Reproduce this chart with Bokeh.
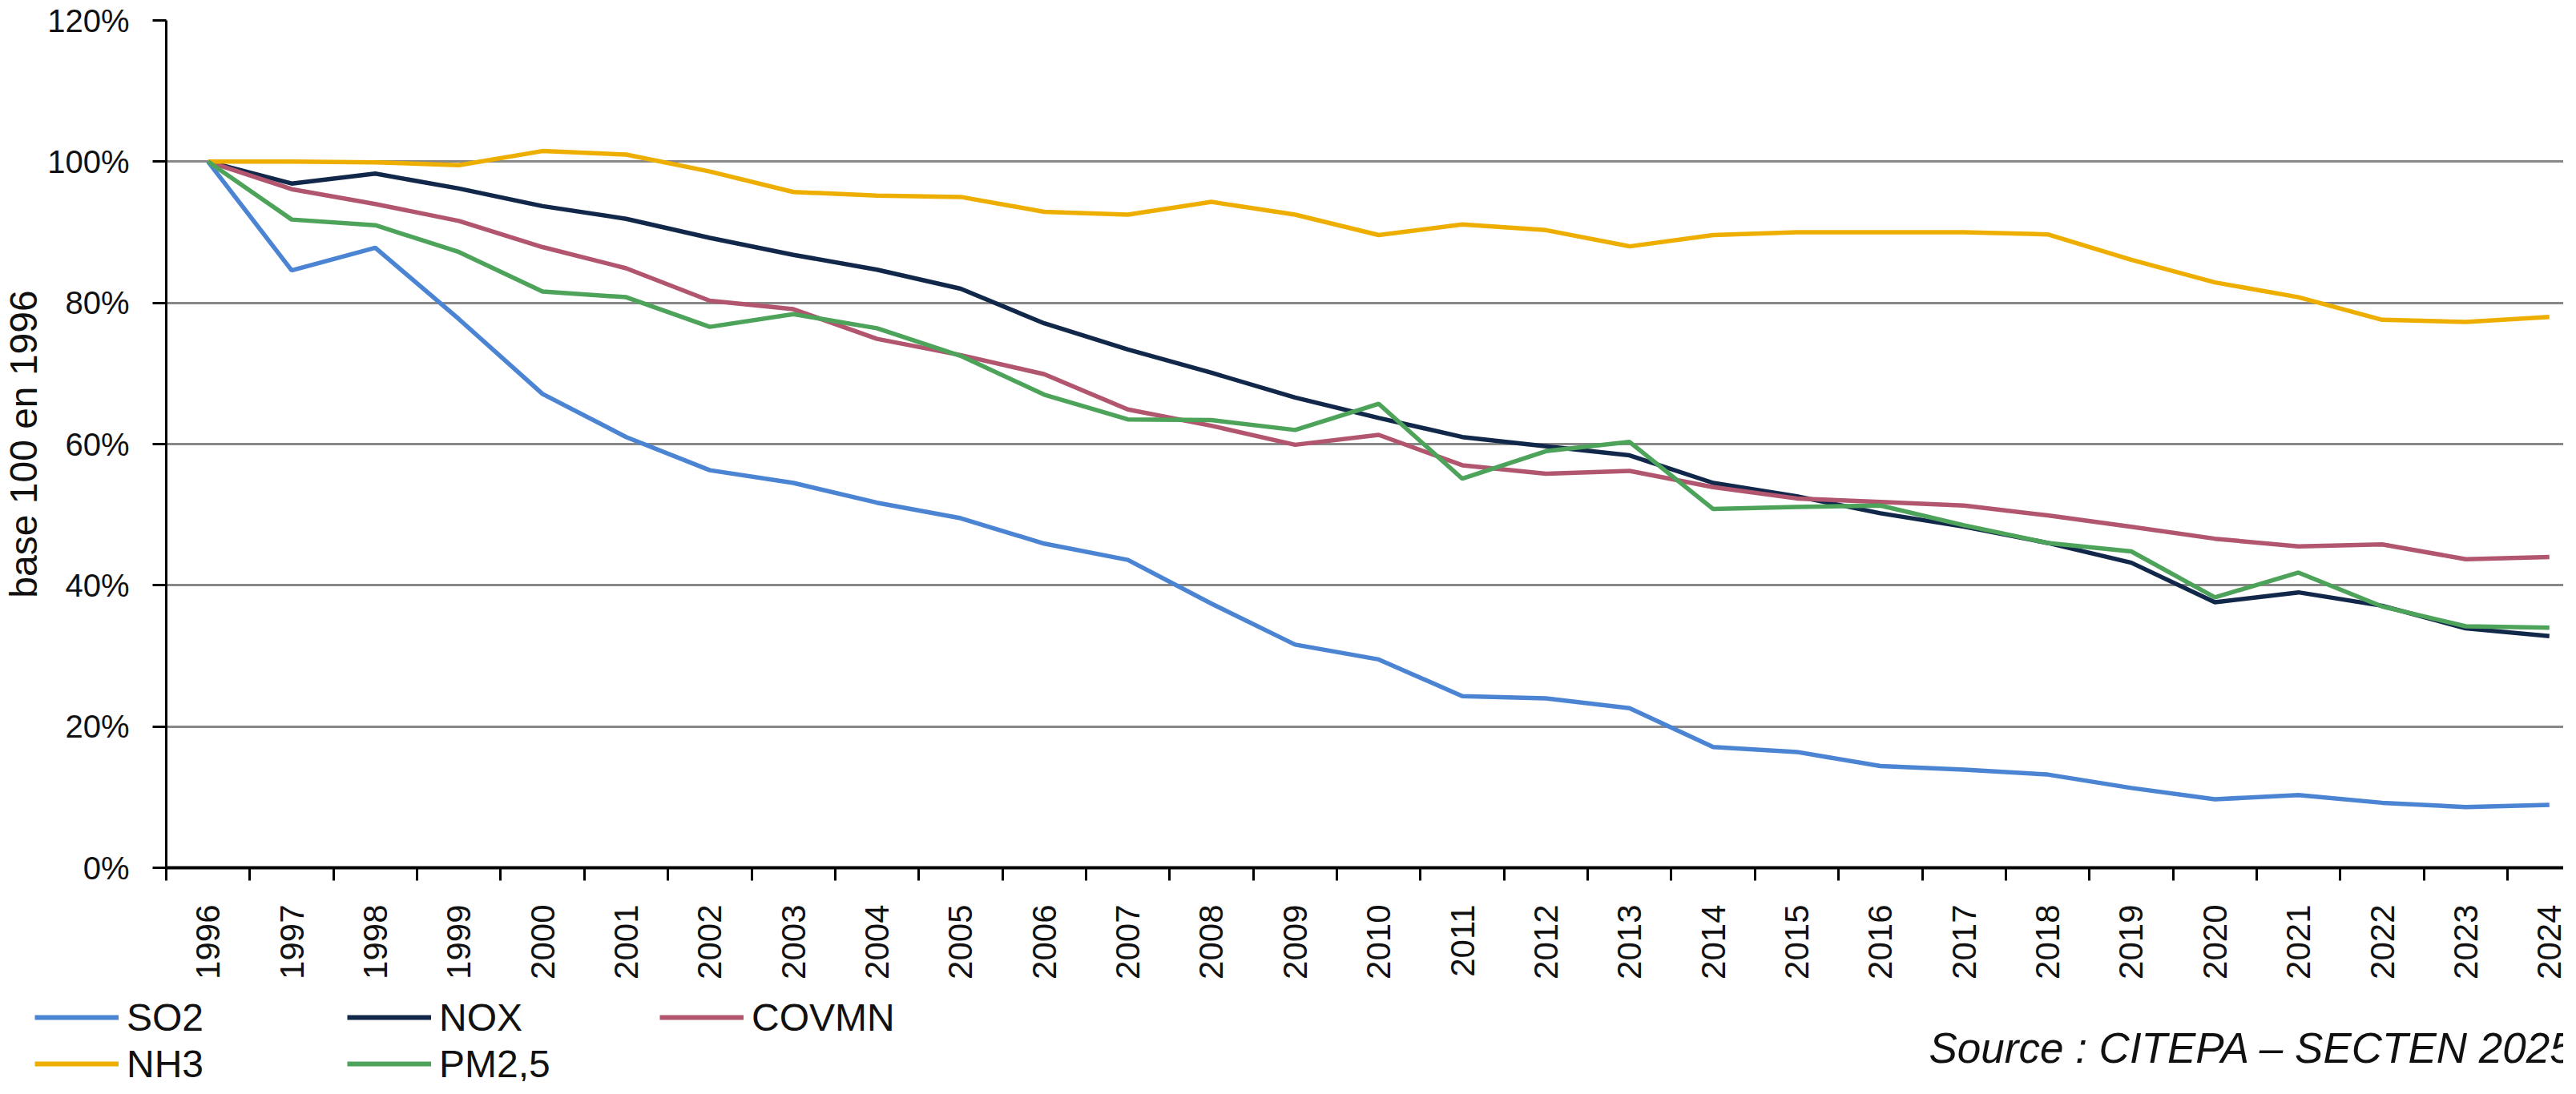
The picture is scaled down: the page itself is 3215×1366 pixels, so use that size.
import math
from bokeh.plotting import figure
from bokeh.layouts import column
from bokeh.models import (FixedTicker, PrintfTickFormatter, Range1d, Legend, LegendItem, Label)
from bokeh.embed import file_html
from bokeh.resources import INLINE

years = list(range(1996, 2025))
so2 = [100, 84.6, 87.8, 77.7, 67.1, 61.0, 56.3, 54.5, 51.7, 49.5, 45.9, 43.6, 37.4, 31.6, 29.5,
       24.3, 24.0, 22.6, 17.1, 16.4, 14.4, 13.9, 13.2, 11.3, 9.7, 10.3, 9.2, 8.6, 8.9]
nox = [100, 96.9, 98.3, 96.2, 93.7, 91.9, 89.2, 86.8, 84.7, 82.0, 77.1, 73.4, 70.1, 66.6, 63.7,
       61.0, 59.7, 58.4, 54.5, 52.6, 50.2, 48.3, 46.0, 43.2, 37.6, 39.0, 37.1, 33.9, 32.8]
covmn = [100, 96.1, 94.0, 91.6, 87.9, 84.9, 80.3, 79.1, 74.9, 72.6, 69.9, 64.9, 62.6, 59.9, 61.3,
         57.0, 55.8, 56.2, 53.9, 52.3, 51.8, 51.3, 49.9, 48.3, 46.6, 45.5, 45.8, 43.7, 44.0]
nh3 = [100, 100.0, 99.9, 99.5, 101.5, 101.0, 98.6, 95.7, 95.2, 95.0, 92.9, 92.5, 94.3, 92.5, 89.6,
       91.1, 90.3, 88.0, 89.6, 90.0, 90.0, 90.0, 89.7, 86.1, 82.9, 80.8, 77.6, 77.3, 78.0]
pm25 = [100, 91.8, 91.0, 87.2, 81.6, 80.8, 76.6, 78.4, 76.4, 72.5, 67.0, 63.5, 63.4, 62.0, 65.7,
        55.1, 59.0, 60.3, 50.8, 51.1, 51.3, 48.5, 46.0, 44.8, 38.3, 41.8, 37.0, 34.2, 34.0]

series_names = ["SO2", "NOX", "COVMN", "NH3", "PM2,5"]
series_values = [so2, nox, covmn, nh3, pm25]
series_colors = ["#4A84D2", "#12284A", "#B2566F", "#EEAE00", "#4DA35A"]

y_ticks = [0, 20, 40, 60, 80, 100, 120]
y_label = "base 100 en 1996"
source_text = "Source : CITEPA \u2013 SECTEN 2025"

FONT = "Liberation Sans"
W = 3199
H1 = 1225
H2 = 125

# ---------------- main chart ----------------
p = figure(width=W, height=H1, output_backend="svg", toolbar_location=None,
           x_range=Range1d(1995.5, 2024.17), y_range=Range1d(0, 120),
           min_border_left=203, min_border_right=0, min_border_top=25, min_border_bottom=142)
p.outline_line_color = None
p.background_fill_color = "white"
p.border_fill_color = "white"

xa = p.xaxis[0]
xa.ticker = FixedTicker(ticks=years, minor_ticks=[y - 0.5 for y in years] + [years[-1] + 0.5])
xa.formatter = PrintfTickFormatter(format="%d")
xa.major_tick_out = 0
xa.major_tick_in = 0
xa.minor_tick_out = 16
xa.minor_tick_in = 0
xa.minor_tick_line_width = 3
xa.minor_tick_line_color = "black"
xa.axis_line_width = 4
xa.axis_line_color = "black"
xa.major_label_orientation = math.pi / 2
xa.major_label_standoff = 30
xa.major_label_text_font = FONT
xa.major_label_text_font_size = "42px"
xa.major_label_text_color = "#111111"

ya = p.yaxis[0]
ya.ticker = FixedTicker(ticks=y_ticks)
ya.formatter = PrintfTickFormatter(format="%d%%")
ya.major_tick_out = 17
ya.major_tick_in = 0
ya.major_tick_line_width = 3
ya.major_tick_line_color = "black"
ya.minor_tick_out = 0
ya.minor_tick_in = 0
ya.axis_line_width = 3
ya.axis_line_color = "black"
ya.major_label_standoff = 29
ya.major_label_text_font = FONT
ya.major_label_text_font_size = "40px"
ya.major_label_text_color = "#111111"
ya.axis_label = y_label
ya.axis_label_standoff = 0
ya.axis_label_text_font = FONT
ya.axis_label_text_font_size = "48px"
ya.axis_label_text_font_style = "normal"
ya.axis_label_text_color = "#111111"

p.xgrid.grid_line_color = None
p.ygrid.ticker = FixedTicker(ticks=y_ticks)
p.ygrid.grid_line_color = "#888888"
p.ygrid.grid_line_width = 3

for name, vals, col in zip(series_names, series_values, series_colors):
    p.line(years, vals, line_color=col, line_width=5.5)

# ---------------- legend + source strip ----------------
q = figure(width=W, height=H2, output_backend="svg", toolbar_location=None,
           x_axis_location=None, y_axis_location=None,
           x_range=Range1d(0, 1), y_range=Range1d(0, 1),
           min_border_left=0, min_border_right=0, min_border_top=0, min_border_bottom=0)
q.outline_line_color = None
q.grid.visible = False
q.background_fill_color = "white"
q.border_fill_color = "white"

for fig in (p, q):
    if "frame_align" in fig.properties():
        fig.frame_align = False

items = []
for name, vals, col in zip(series_names, series_values, series_colors):
    r = q.line(years, vals, line_color=col, line_width=6)  # outside q's view; used for legend swatches
    items.append(LegendItem(label=name, renderers=[r]))

legend = Legend(items=items, orientation="horizontal", ncols=3,
                location=(43, -6), padding=0, margin=0, spacing=2,
                glyph_width=105, glyph_height=56, label_height=56, label_width=273,
                label_standoff=10, label_text_font=FONT, label_text_font_size="48px",
                label_text_color="#111111", border_line_alpha=0, background_fill_alpha=0)
q.add_layout(legend, "center")

q.add_layout(Label(x=2407, y=42, x_units="screen", y_units="screen", text=source_text,
                   text_font=FONT, text_font_size="53px", text_font_style="italic",
                   text_color="#111111", text_baseline="alphabetic", text_align="left"))

layout = column(p, q, spacing=0)
open("out.html", "w").write(file_html(layout, INLINE))
